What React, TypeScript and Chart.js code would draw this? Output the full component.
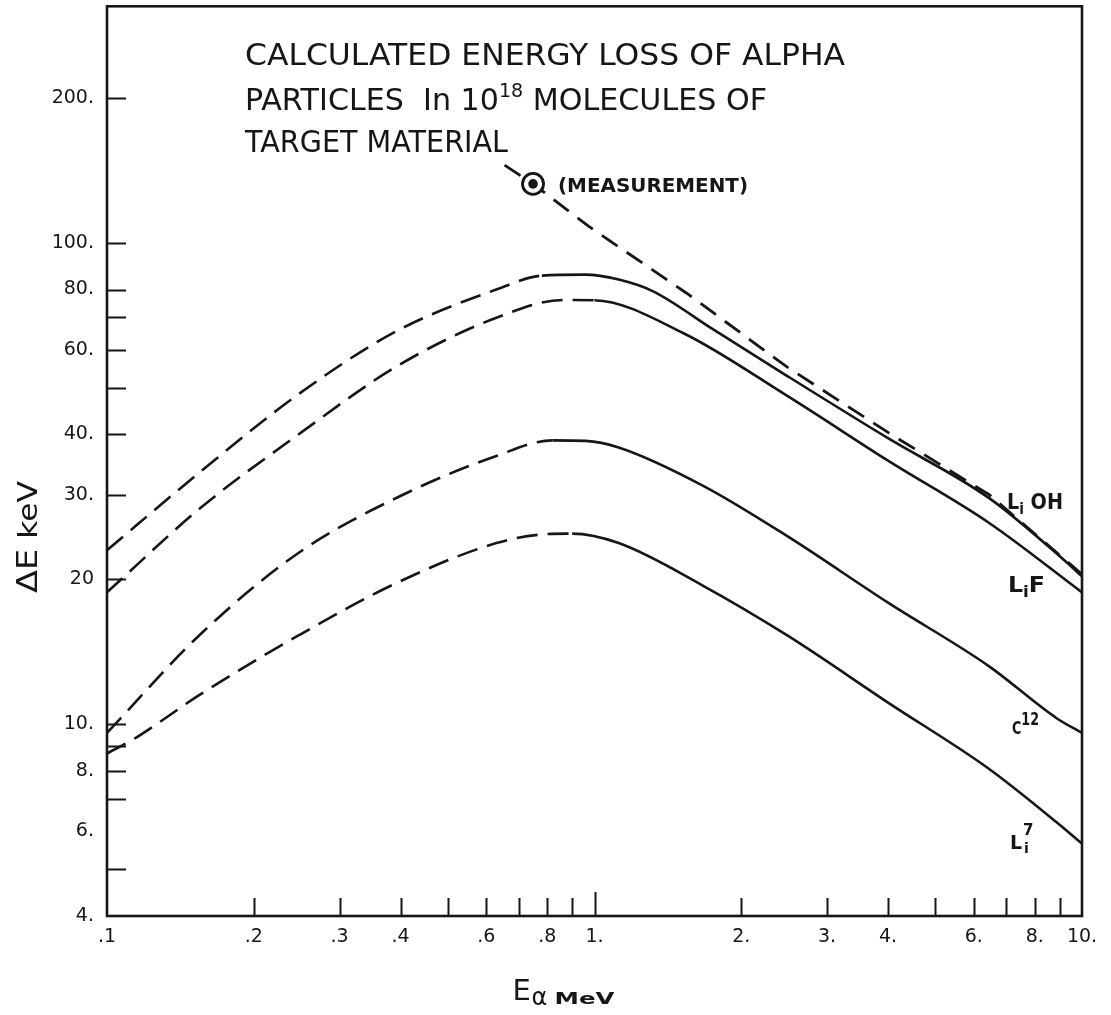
import React, { useEffect, useRef } from 'react';
import { Chart, registerables } from 'chart.js';

Chart.register(...registerables);

const INK = '#161616';
const FONT = '"DejaVu Sans", "Liberation Sans", sans-serif';

// ---------- axes ----------
const X_MIN = 0.1;
const X_MAX = 10;
const Y_MIN = 4;
const Y_MAX = 310;
const X_TICKS = [0.1, 0.2, 0.3, 0.4, 0.6, 0.8, 1, 2, 3, 4, 6, 8, 10];
const X_TICK_LABELS = ['.1', '.2', '.3', '.4', '.6', '.8', '1.', '2.', '3.', '4.', '6.', '8.', '10.'];
const X_MINOR = [0.2, 0.3, 0.4, 0.5, 0.6, 0.7, 0.8, 0.9, 1, 2, 3, 4, 5, 6, 7, 8, 9];
const Y_TICKS = [4, 6, 8, 10, 20, 30, 40, 60, 80, 100, 200];
const Y_TICK_LABELS = ['4.', '6.', '8.', '10.', '20', '30.', '40.', '60.', '80.', '100.', '200.'];
const Y_MINOR = [5, 7, 8, 9, 10, 20, 30, 40, 50, 60, 70, 80, 100, 200];

// ---------- series (E alpha in MeV, Delta E in keV) ----------
const LIOH_E = [0.1, 0.1545, 0.247, 0.394, 0.629, 0.78, 0.958, 1.121, 1.316, 1.752, 2.486, 4.0, 6.45, 9.16, 10];
const LIOH_DE = [23.0, 33.3, 48.5, 65.7, 80.0, 85.5, 85.9, 83.9, 79.4, 66.1, 52.9, 39.3, 29.5, 22.0, 20.3];
const LIOH_SOLID_FROM = 0.78;

const LIF_E = [0.1, 0.1545, 0.247, 0.394, 0.629, 0.861, 1.0, 1.519, 2.486, 4.0, 6.45, 10];
const LIF_DE = [18.8, 28.0, 40.0, 55.5, 69.9, 76.1, 76.0, 65.0, 48.1, 35.3, 26.2, 18.8];
const LIF_SOLID_FROM = 1.0;

const C12_E = [0.1, 0.1545, 0.247, 0.394, 0.629, 0.82, 0.958, 1.121, 1.671, 2.486, 4.0, 6.45, 8.87, 10];
const C12_DE = [9.6, 15.3, 22.7, 29.6, 36.1, 38.9, 38.8, 37.6, 31.3, 24.6, 17.9, 13.2, 10.3, 9.6];
const C12_SOLID_FROM = 0.82;

const LI7_E = [0.1, 0.115, 0.1545, 0.247, 0.394, 0.629, 0.78, 0.9, 1.121, 1.671, 2.486, 4.0, 6.45, 8.87, 10];
const LI7_DE = [8.7, 9.4, 11.5, 15.3, 19.7, 23.8, 24.8, 24.9, 23.8, 19.4, 15.3, 11.1, 8.08, 6.26, 5.65];
const LI7_SOLID_FROM = 0.9;

// extrapolation through the measured point
const MEAS_LINE_E = [0.654, 0.748, 0.972, 1.543, 2.486, 4.0, 6.45, 10];
const MEAS_LINE_DE = [145, 132.6, 108.3, 78.7, 55.2, 40.4, 30.0, 20.5];
const MEAS_E = [0.748];
const MEAS_DE = [132.6];

const pts = (xs: number[], ys: number[]) => xs.map((x, i) => ({ x, y: ys[i] }));

function curve(label: string, xs: number[], ys: number[], solidFrom: number) {
  return {
    label,
    data: pts(xs, ys),
    showLine: true,
    borderColor: INK,
    borderWidth: 2.6,
    pointRadius: 0,
    fill: false,
    cubicInterpolationMode: 'monotone' as const,
    order: 2,
    segment: {
      borderDash: (c: any) => (c.p1.parsed.x <= solidFrom + 1e-9 ? [21, 10] : []),
    },
  };
}

type Run = { t: string; size: number; weight?: string; dy?: number; style?: string };

function fontOf(r: Run) {
  return `${r.style || 'normal'} ${r.weight || 'normal'} ${r.size}px ${FONT}`;
}

function drawRuns(ctx: CanvasRenderingContext2D, runs: Run[], x: number, y: number, width?: number) {
  ctx.save();
  const ws = runs.map((r) => {
    ctx.font = fontOf(r);
    return ctx.measureText(r.t).width;
  });
  const total = ws.reduce((a, b) => a + b, 0);
  const sx = width ? width / total : 1;
  ctx.translate(x, y);
  ctx.scale(sx, 1);
  ctx.fillStyle = INK;
  ctx.textAlign = 'left';
  ctx.textBaseline = 'alphabetic';
  let cx = 0;
  runs.forEach((r, i) => {
    ctx.font = fontOf(r);
    ctx.fillText(r.t, cx, r.dy || 0);
    cx += ws[i];
  });
  ctx.restore();
}

const decor = {
  id: 'decor',
  afterDraw(chart: any) {
    const { ctx, chartArea: a, scales } = chart;
    const xs = scales.x;
    const ys = scales.y;
    ctx.save();
    ctx.strokeStyle = INK;
    ctx.lineCap = 'butt';
    // frame
    ctx.lineWidth = 2.6;
    ctx.strokeRect(a.left, a.top, a.right - a.left, a.bottom - a.top);
    // inward ticks
    ctx.lineWidth = 2;
    ctx.beginPath();
    for (const v of Y_MINOR) {
      const py = Math.round(ys.getPixelForValue(v)) + 0.5;
      ctx.moveTo(a.left, py);
      ctx.lineTo(a.left + 19, py);
    }
    for (const v of X_MINOR) {
      const px = Math.round(xs.getPixelForValue(v)) + 0.5;
      ctx.moveTo(px, a.bottom);
      ctx.lineTo(px, a.bottom - (v === 1 ? 24 : 18));
    }
    ctx.stroke();
    ctx.restore();

    // title block
    const tx = a.left + 138;
    const ty = a.bottom - 851;
    drawRuns(ctx, [{ t: 'CALCULATED ENERGY LOSS OF ALPHA', size: 30 }], tx, ty, 600);
    drawRuns(
      ctx,
      [
        { t: 'PARTICLES  In 10', size: 30 },
        { t: '18', size: 19, dy: -13 },
        { t: ' MOLECULES OF', size: 30 },
      ],
      tx,
      ty + 45,
      522
    );
    drawRuns(ctx, [{ t: 'TARGET MATERIAL', size: 30 }], tx, ty + 87, 263);

    // measurement label
    const mx = xs.getPixelForValue(MEAS_E[0]);
    const my = ys.getPixelForValue(MEAS_DE[0]);
    drawRuns(ctx, [{ t: '(MEASUREMENT)', size: 20, weight: 'bold' }], mx + 25, my + 8, 190);

    // curve labels near right edge
    const lx = a.right - 75;
    drawRuns(
      ctx,
      [
        { t: 'L', size: 21, weight: 'bold' },
        { t: 'i', size: 15, weight: 'bold', dy: 5 },
        { t: ' OH', size: 21, weight: 'bold' },
      ],
      lx,
      ys.getPixelForValue(28.0),
      56
    );
    drawRuns(
      ctx,
      [
        { t: 'L', size: 21, weight: 'bold' },
        { t: 'i', size: 15, weight: 'bold', dy: 5 },
        { t: 'F', size: 21, weight: 'bold' },
      ],
      lx + 1,
      ys.getPixelForValue(18.8),
      37
    );
    drawRuns(
      ctx,
      [
        { t: 'C', size: 18, weight: 'bold' },
        { t: '12', size: 18, weight: 'bold', dy: -9 },
      ],
      lx + 5,
      ys.getPixelForValue(9.55),
      27
    );
    const l7y = ys.getPixelForValue(5.5);
    drawRuns(ctx, [{ t: 'L', size: 19, weight: 'bold' }], lx + 3, l7y);
    drawRuns(ctx, [{ t: '7', size: 15, weight: 'bold' }], lx + 16, l7y - 14);
    drawRuns(ctx, [{ t: 'i', size: 14, weight: 'bold' }], lx + 17, l7y + 4);

    // y axis title (rotated)
    const ymid = ys.getPixelForValue(24.5);
    ctx.save();
    ctx.translate(27, ymid);
    ctx.rotate(-Math.PI / 2);
    drawRuns(
      ctx,
      [
        { t: 'ΔE', size: 29 },
        { t: ' keV', size: 27 },
      ],
      -56,
      10,
      112
    );
    ctx.restore();

    // x axis title
    const cxm = (a.left + a.right) / 2;
    drawRuns(ctx, [{ t: 'E', size: 29 }], cxm - 82, a.bottom + 84);
    drawRuns(ctx, [{ t: 'α', size: 24 }], cxm - 63, a.bottom + 89);
    drawRuns(ctx, [{ t: 'MeV', size: 16, weight: 'bold' }], cxm - 40, a.bottom + 88, 60);
  },
};

export default function App() {
  const ref = useRef<HTMLCanvasElement | null>(null);

  useEffect(() => {
    if (!ref.current) return;
    const findLabel = (vals: number[], labels: string[], v: number) => {
      const i = vals.findIndex((t) => Math.abs(t - v) / t < 1e-6);
      return i >= 0 ? labels[i] : '';
    };
    const chart = new Chart(ref.current, {
      type: 'scatter',
      data: {
        datasets: [
          {
            label: 'measurement dot',
            data: pts(MEAS_E, MEAS_DE),
            pointRadius: 4.8,
            pointBackgroundColor: INK,
            pointBorderWidth: 0,
            showLine: false,
            order: 0,
          } as any,
          {
            label: 'measurement',
            data: pts(MEAS_E, MEAS_DE),
            pointRadius: 10.5,
            pointBackgroundColor: '#ffffff',
            pointBorderColor: INK,
            pointBorderWidth: 2.8,
            showLine: false,
            order: 1,
          } as any,
          {
            label: 'extrapolation',
            data: pts(MEAS_LINE_E, MEAS_LINE_DE),
            showLine: true,
            borderColor: INK,
            borderWidth: 2.8,
            borderDash: [19, 11],
            pointRadius: 0,
            fill: false,
            tension: 0,
            order: 2,
          } as any,
          curve('LiOH', LIOH_E, LIOH_DE, LIOH_SOLID_FROM) as any,
          curve('LiF', LIF_E, LIF_DE, LIF_SOLID_FROM) as any,
          curve('C12', C12_E, C12_DE, C12_SOLID_FROM) as any,
          curve('Li7', LI7_E, LI7_DE, LI7_SOLID_FROM) as any,
        ],
      },
      options: {
        animation: false,
        responsive: true,
        maintainAspectRatio: false,
        layout: { padding: { top: 0, right: 29, left: 0, bottom: 0 } },
        plugins: { legend: { display: false }, tooltip: { enabled: false } },
        scales: {
          x: {
            type: 'logarithmic',
            min: X_MIN,
            max: X_MAX,
            grid: { display: false, drawTicks: false },
            border: { display: false },
            afterBuildTicks: (s: any) => {
              s.ticks = X_TICKS.map((v) => ({ value: v }));
            },
            afterFit: (s: any) => {
              s.height = 99;
              s.paddingLeft = 0;
              s.paddingRight = 0;
              s.paddingTop = 0;
              s.paddingBottom = 0;
            },
            ticks: {
              autoSkip: false,
              maxRotation: 0,
              padding: 10,
              color: INK,
              font: { family: FONT, size: 19 },
              callback: (v: any) => findLabel(X_TICKS, X_TICK_LABELS, Number(v)),
            },
          },
          y: {
            type: 'logarithmic',
            min: Y_MIN,
            max: Y_MAX,
            grid: { display: false, drawTicks: false },
            border: { display: false },
            afterBuildTicks: (s: any) => {
              s.ticks = Y_TICKS.map((v) => ({ value: v }));
            },
            afterFit: (s: any) => {
              s.width = 107;
              s.paddingLeft = 0;
              s.paddingRight = 0;
              s.paddingTop = 0;
              s.paddingBottom = 0;
            },
            ticks: {
              autoSkip: false,
              padding: 13,
              color: INK,
              font: { family: FONT, size: 19 },
              callback: (v: any) => findLabel(Y_TICKS, Y_TICK_LABELS, Number(v)),
            },
          },
        },
      } as any,
      plugins: [decor],
    });
    return () => chart.destroy();
  }, []);

  return (
    <div style={{ position: 'absolute', left: 0, top: -7, width: 1111, height: 1022, background: '#fff' }}>
      <canvas ref={ref} />
    </div>
  );
}
